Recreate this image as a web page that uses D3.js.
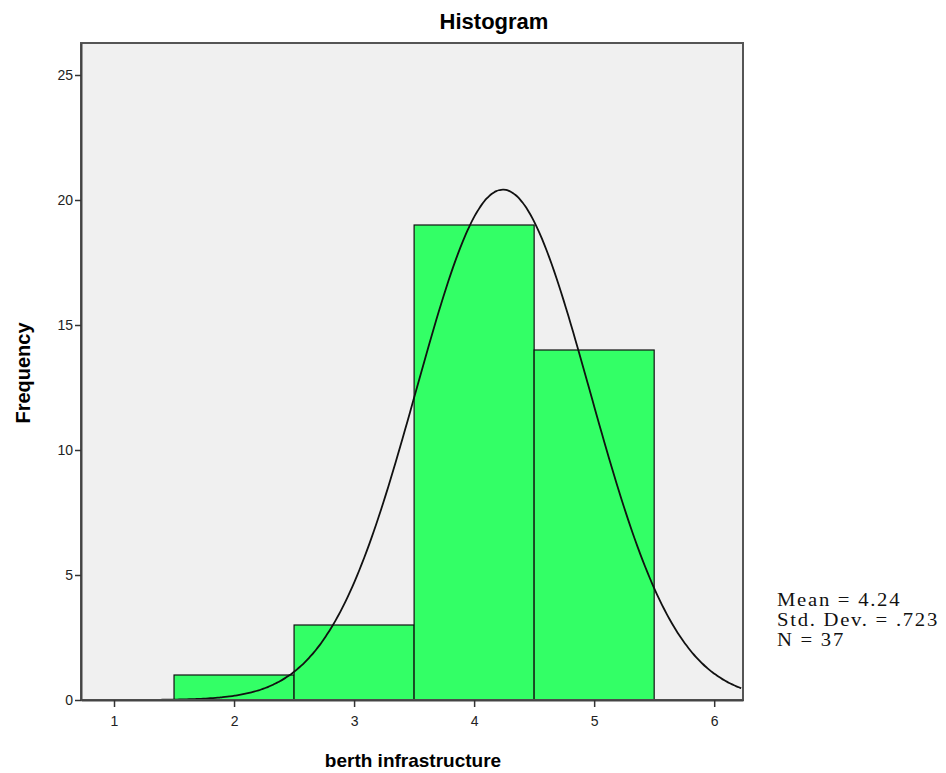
<!DOCTYPE html>
<html>
<head>
<meta charset="utf-8">
<script src="https://cdn.jsdelivr.net/npm/d3@7"></script>
<style>
  body { margin: 0; background: #fff; }
  svg { display: block; }
</style>
</head>
<body>
<div id="chart"></div>
<script>
  // histogram bins (lower edge, upper edge) and counts
  var binStarts = [1.5, 2.5, 3.5, 4.5];
  var binEnds = [2.5, 3.5, 4.5, 5.5];
  var counts = [1, 3, 19, 14];
  var xTicks = [1, 2, 3, 4, 5, 6];
  var yTicks = [0, 5, 10, 15, 20, 25];
  // summary statistics shown at right (used for the normal curve)
  var mean = 4.24, sd = 0.723, n = 37;
  var statLines = ["Mean = 4.24", "Std. Dev. = .723", "N = 37"];

  var w = 946, h = 773;
  var plotL = 81, plotR = 743, plotT = 43, plotB = 700;

  var svg = d3.select("#chart").append("svg")
    .attr("width", w)
    .attr("height", h);

  var xScale = d3.scaleLinear().domain([0.725, 6.24]).range([plotL, plotR]);
  var yScale = d3.scaleLinear().domain([0, 26.28]).range([plotB, plotT]);

  // plot background
  svg.append("rect")
    .attr("x", plotL).attr("y", plotT)
    .attr("width", plotR - plotL).attr("height", plotB - plotT)
    .style("fill", "#f0f0f0");

  svg.append("clipPath").attr("id", "clip")
    .append("rect")
    .attr("x", plotL).attr("y", plotT)
    .attr("width", plotR - plotL).attr("height", plotB - plotT);

  // bars
  svg.selectAll(".bar")
    .data(counts)
    .enter().append("rect")
    .attr("class", "bar")
    .attr("x", function(d, i) { return xScale(binStarts[i]); })
    .attr("y", function(d) { return yScale(d); })
    .attr("width", function(d, i) { return xScale(binEnds[i]) - xScale(binStarts[i]); })
    .attr("height", function(d) { return yScale(0) - yScale(d); })
    .style("fill", "#33ff66")
    .style("stroke", "#111")
    .style("stroke-width", 1.2);

  // fitted normal curve (scaled to counts, bin width 1)
  var binWidth = 1;
  var xs = d3.range(0.725, 6.2401, 0.02);
  var curve = d3.line()
    .x(function(d) { return xScale(d); })
    .y(function(d) {
      var z = (d - mean) / sd;
      return yScale(n * binWidth * Math.exp(-0.5 * z * z) / (sd * Math.sqrt(2 * Math.PI)));
    })
    .curve(d3.curveBasis);

  svg.append("path")
    .datum(xs)
    .attr("d", curve)
    .attr("clip-path", "url(#clip)")
    .style("fill", "none")
    .style("stroke", "#111")
    .style("stroke-width", 1.8);

  // frame
  svg.append("rect")
    .attr("x", plotL).attr("y", plotT)
    .attr("width", plotR - plotL).attr("height", plotB - plotT)
    .style("fill", "none")
    .style("stroke", "#555")
    .style("stroke-width", 2);

  // axes
  var yAxis = d3.axisLeft(yScale).tickValues(yTicks).tickSize(6).tickSizeOuter(0).tickPadding(2);
  var gy = svg.append("g").attr("transform", "translate(" + plotL + ",0)").call(yAxis);
  var xAxis = d3.axisBottom(xScale).tickValues(xTicks).tickFormat(d3.format("d"))
    .tickSize(7).tickSizeOuter(0).tickPadding(9);
  var gx = svg.append("g").attr("transform", "translate(0," + plotB + ")").call(xAxis);

  [gy, gx].forEach(function(g) {
    g.select(".domain").style("stroke", "#444").style("stroke-width", 2);
    g.selectAll(".tick line").style("stroke", "#333").style("stroke-width", 1.5);
    g.selectAll(".tick text")
      .style("font-family", "Arial, 'Liberation Sans', sans-serif")
      .style("font-size", "14px")
      .style("fill", "#222");
  });

  // title and axis labels
  svg.append("text")
    .attr("x", 494).attr("y", 29)
    .attr("text-anchor", "middle")
    .style("font-family", "Arial, 'Liberation Sans', sans-serif")
    .style("font-weight", "bold")
    .style("font-size", "22px")
    .text("Histogram");

  svg.append("text")
    .attr("x", 413).attr("y", 767)
    .attr("text-anchor", "middle")
    .style("font-family", "Arial, 'Liberation Sans', sans-serif")
    .style("font-weight", "bold")
    .style("font-size", "19px")
    .text("berth infrastructure");

  svg.append("text")
    .attr("transform", "translate(30,373) rotate(-90)")
    .attr("text-anchor", "middle")
    .style("font-family", "Arial, 'Liberation Sans', sans-serif")
    .style("font-weight", "bold")
    .style("font-size", "20px")
    .text("Frequency");

  // statistics box (serif, slightly stretched like the original)
  var stats = svg.append("g").attr("transform", "translate(777,0) scale(1.15,1)");
  stats.selectAll(".stat")
    .data(statLines)
    .enter().append("text")
    .attr("class", "stat")
    .attr("x", 0)
    .attr("y", function(d, i) { return 606 + i * 20; })
    .style("font-family", "'Liberation Serif', 'Times New Roman', serif")
    .style("font-size", "18px")
    .style("letter-spacing", "1.5px")
    .style("fill", "#111")
    .text(function(d) { return d; });
</script>
</body>
</html>
